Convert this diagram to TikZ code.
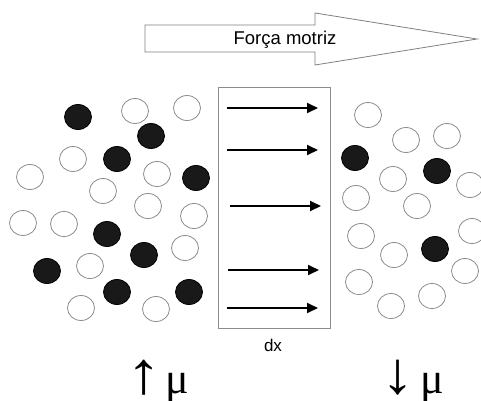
\documentclass[tikz,border=0pt]{standalone}
\usepackage{fontspec}
\setmainfont{Liberation Serif}
\newfontfamily\arial{Liberation Sans}
\usetikzlibrary{arrows.meta,shapes.geometric}

\begin{document}
\begin{tikzpicture}[x=1pt,y=-1pt,
        open node/.style={ellipse,draw=black!45,line width=0.8pt,minimum width=27pt,minimum height=25pt,inner sep=0pt},
        full node/.style={open node,draw=black,fill=black!90},
        flow/.style={line width=1.8pt,-{Triangle[length=11pt,width=10pt]}},
        label node/.style={font=\arial\fontsize{17}{20}\selectfont},
        mu node/.style={anchor=base west,inner sep=0pt,font=\fontsize{44}{48}\selectfont}]

    \useasboundingbox (0,0) rectangle (481,400);

    % driving force
    \draw[black!50,line width=0.8pt] (145,25) -- (315,25) -- (315,13) -- (477,39)
        -- (315,65) -- (315,52) -- (145,52) -- cycle;
    \node[font=\arial\fontsize{18.5}{22}\selectfont] (forca) at (285,40) {Força motriz};

    % left side, high potential
    \node[full node] (l1) at (78,117) {};
    \node[full node] (l2) at (151,136) {};
    \node[full node] (l3) at (117,159) {};
    \node[full node] (l4) at (196,178) {};
    \node[full node] (l5) at (107,234) {};
    \node[full node] (l6) at (144,255) {};
    \node[full node] (l7) at (47,271) {};
    \node[full node] (l8) at (117,292) {};
    \node[full node] (l9) at (189,292) {};

    \node[open node] (l10) at (135,111) {};
    \node[open node] (l11) at (187,108) {};
    \node[open node] (l12) at (73,159) {};
    \node[open node] (l13) at (30,177) {};
    \node[open node] (l14) at (157,174) {};
    \node[open node] (l15) at (103,191) {};
    \node[open node] (l16) at (148,206) {};
    \node[open node] (l17) at (23,223) {};
    \node[open node] (l18) at (64,224) {};
    \node[open node] (l19) at (194,216) {};
    \node[open node] (l20) at (185,248) {};
    \node[open node] (l21) at (90,266) {};
    \node[open node] (l22) at (81,308) {};
    \node[open node] (l23) at (156,309) {};

    % right side, low potential
    \node[full node] (r1) at (355,158) {};
    \node[full node] (r2) at (437,171) {};
    \node[full node] (r3) at (435,249) {};

    \node[open node] (r4) at (368,115) {};
    \node[open node] (r5) at (406,140) {};
    \node[open node] (r6) at (447,136) {};
    \node[open node] (r7) at (393,179) {};
    \node[open node] (r8) at (470,185) {};
    \node[open node] (r9) at (356,198) {};
    \node[open node] (r10) at (417,206) {};
    \node[open node] (r11) at (361,236) {};
    \node[open node] (r12) at (472,231) {};
    \node[open node] (r13) at (394,255) {};
    \node[open node] (r14) at (465,271) {};
    \node[open node] (r15) at (359,282) {};
    \node[open node] (r16) at (432,296) {};
    \node[open node] (r17) at (391,306) {};

    % slab dx
    \node[draw=black!45,line width=0.8pt,minimum width=112pt,minimum height=241pt,inner sep=0pt]
        (slab) at (274.5,207.5) {};
    \node[label node] (dx) at (273,345) {dx};

    \coordinate (a1) at (227,108);  \coordinate (b1) at (318,108);
    \coordinate (a2) at (227,150);  \coordinate (b2) at (318,150);
    \coordinate (a3) at (230,206);  \coordinate (b3) at (321,206);
    \coordinate (a4) at (228,270);  \coordinate (b4) at (319,270);
    \coordinate (a5) at (227,308);  \coordinate (b5) at (318,308);

    \path[flow]
    (a1) edge (b1)
    (a2) edge (b2)
    (a3) edge (b3)
    (a4) edge (b4)
    (a5) edge (b5);

    % chemical potential
    \node[mu node] (uphigh) at (126,393) {\scalebox{1.6}[1.35]{↑}};
    \node[mu node] (muhigh) at (165,393) {μ};
    \node[mu node] (downlow) at (381,393) {\scalebox{1.5}[1.35]{↓}};
    \node[mu node] (mulow) at (420,393) {μ};
\end{tikzpicture}
\end{document}
